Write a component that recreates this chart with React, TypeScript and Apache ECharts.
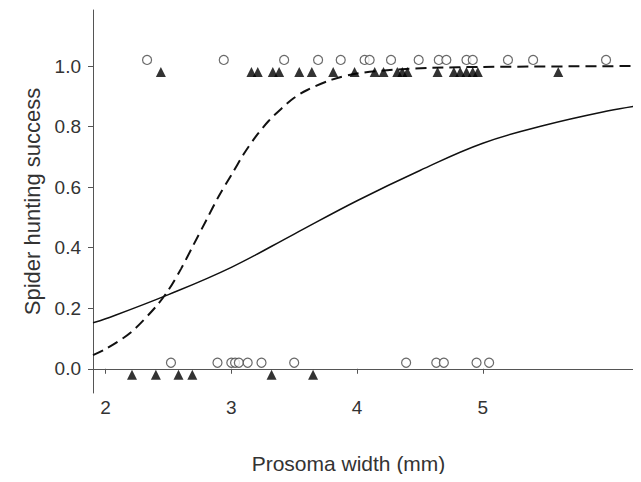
import React, { useEffect, useRef } from "react";
import * as echarts from "echarts";

// Observations (prosoma width, jittered success 1.02/0.98/0.02/-0.02)
const topCircleX = [2.33, 2.94, 3.42, 3.69, 3.87, 4.06, 4.1, 4.27, 4.49, 4.65, 4.71, 4.87, 4.92, 5.2, 5.4, 5.98];
const topTriangleX = [2.44, 3.16, 3.21, 3.33, 3.38, 3.54, 3.64, 3.81, 3.98, 4.14, 4.21, 4.32, 4.36, 4.4, 4.64, 4.77, 4.82, 4.87, 4.92, 4.96, 5.6];
const bottomCircleX = [2.52, 2.89, 3.0, 3.03, 3.06, 3.13, 3.24, 3.5, 4.39, 4.63, 4.69, 4.95, 5.05];
const bottomTriangleX = [2.21, 2.4, 2.58, 2.69, 3.32, 3.65];

// Fitted curves
const solidX = [1.9, 2.0, 2.5, 3.0, 3.5, 4.0, 4.5, 5.0, 5.5, 6.0, 6.25];
const solidY = [0.152, 0.165, 0.245, 0.335, 0.445, 0.555, 0.655, 0.745, 0.805, 0.852, 0.87];
const dashedX = [1.9, 2.0, 2.2, 2.4, 2.5, 2.6, 2.7, 2.8, 2.9, 3.0, 3.1, 3.2, 3.3, 3.4, 3.5, 3.6, 3.8, 4.0, 4.3, 4.6, 5.0, 6.25];
const dashedY = [0.045, 0.065, 0.12, 0.205, 0.26, 0.33, 0.41, 0.49, 0.57, 0.64, 0.71, 0.77, 0.82, 0.86, 0.895, 0.92, 0.955, 0.975, 0.988, 0.994, 0.997, 1.0];

const xTicks = [2, 3, 4, 5];
const yTicks = [0, 0.2, 0.4, 0.6, 0.8, 1.0];

export default function App() {
  const ref = useRef<HTMLDivElement>(null);
  useEffect(() => {
    if (!ref.current) return;
    const chart = echarts.init(ref.current, null, { renderer: "svg" });
    const font = "'Liberation Sans', Arial, sans-serif";
    const axisColor = "#555";
    const textColor = "#333";
    chart.setOption({
      animation: false,
      backgroundColor: "#fff",
      grid: { left: 93, top: 10, right: 1, bottom: 89 },
      xAxis: {
        type: "value",
        min: 1.9,
        max: 6.25,
        name: "Prosoma width (mm)",
        nameLocation: "middle",
        nameGap: 60,
        nameTextStyle: { fontFamily: font, fontSize: 21, color: textColor, padding: [0, 36, 0, 0] },
        axisLine: { show: true, lineStyle: { color: axisColor, width: 1 } },
        axisTick: { show: true, length: 5, lineStyle: { color: axisColor }, customValues: xTicks },
        axisLabel: { fontFamily: font, fontSize: 19, color: textColor, margin: 5, customValues: xTicks, formatter: (v: number) => String(v) },
        splitLine: { show: false },
      },
      yAxis: {
        type: "value",
        min: -0.08,
        max: 1.185,
        name: "Spider hunting success",
        nameLocation: "middle",
        nameGap: 50,
        nameTextStyle: { fontFamily: font, fontSize: 22, color: textColor },
        axisLine: { show: true, lineStyle: { color: axisColor, width: 1 } },
        axisTick: { show: true, length: 5, lineStyle: { color: axisColor }, customValues: yTicks },
        axisLabel: { fontFamily: font, fontSize: 19, color: textColor, margin: 12, customValues: yTicks, formatter: (v: number) => v.toFixed(1) },
        splitLine: { show: false },
      },
      series: [
        {
          type: "line",
          data: solidX.map((x, i) => [x, solidY[i]]),
          smooth: 0.4,
          showSymbol: false,
          lineStyle: { color: "#111", width: 1.5 },
          z: 2,
        },
        {
          type: "line",
          data: dashedX.map((x, i) => [x, dashedY[i]]),
          smooth: 0.3,
          showSymbol: false,
          lineStyle: { color: "#111", width: 2, type: [11, 6] },
          z: 2,
        },
        {
          type: "scatter",
          symbol: "circle",
          symbolSize: 9,
          data: topCircleX.map((x) => [x, 1.02]),
          itemStyle: { color: "#fff", borderColor: "#444", borderWidth: 1.2 },
          z: 3,
        },
        {
          type: "scatter",
          symbol: "circle",
          symbolSize: 9,
          data: bottomCircleX.map((x) => [x, 0.02]),
          itemStyle: { color: "#fff", borderColor: "#444", borderWidth: 1.2 },
          z: 3,
        },
        {
          type: "scatter",
          symbol: "triangle",
          symbolSize: 10,
          data: topTriangleX.map((x) => [x, 0.98]),
          itemStyle: { color: "#000" },
          z: 4,
        },
        {
          type: "scatter",
          symbol: "triangle",
          symbolSize: 10,
          data: bottomTriangleX.map((x) => [x, -0.02]),
          itemStyle: { color: "#000" },
          z: 4,
        },
      ],
    });
    return () => chart.dispose();
  }, []);
  return <div ref={ref} style={{ width: 641, height: 482, margin: -8 }} />;
}
